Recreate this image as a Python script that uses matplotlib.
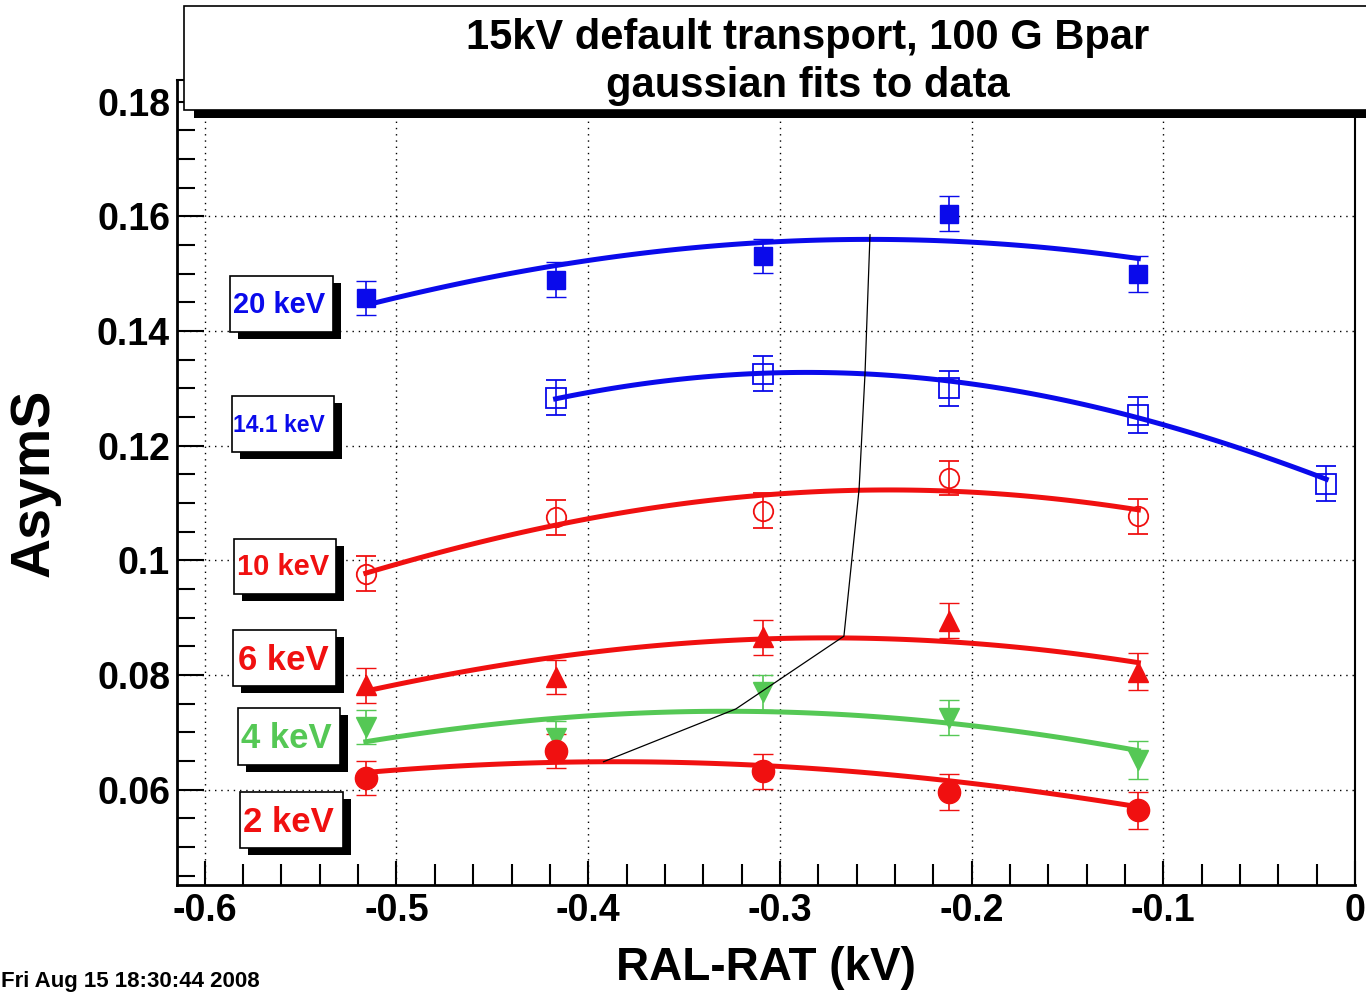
import numpy as np
import matplotlib
matplotlib.use("Agg")
import matplotlib.pyplot as plt
from matplotlib.patches import Rectangle
from matplotlib.ticker import MultipleLocator, FixedLocator, FixedFormatter

# ---------------- data ----------------
x_main = [-0.516, -0.417, -0.309, -0.212, -0.113]
x_141 = [-0.417, -0.309, -0.212, -0.113, -0.015]

asym_20 = [0.1458, 0.1490, 0.1531, 0.1605, 0.1500]
asym_141 = [0.1284, 0.1326, 0.1300, 0.1254, 0.1134]
asym_10 = [0.0977, 0.1075, 0.1087, 0.1144, 0.1077]
asym_6 = [0.0782, 0.0797, 0.0866, 0.0895, 0.0806]
asym_4 = [0.0710, 0.0690, 0.0770, 0.0726, 0.0652]
asym_2 = [0.0621, 0.0668, 0.0632, 0.0596, 0.0564]

err_20 = [0.0030, 0.0030, 0.0030, 0.0030, 0.0031]
err_141 = [0.0030, 0.0030, 0.0030, 0.0031, 0.0031]
err_10 = [0.0030, 0.0030, 0.0030, 0.0030, 0.0031]
err_6 = [0.0030, 0.0030, 0.0030, 0.0031, 0.0032]
err_4 = [0.0030, 0.0030, 0.0030, 0.0031, 0.0033]
err_2 = [0.0030, 0.0030, 0.0031, 0.0032, 0.0033]

# gaussian fit parameters (amplitude, mean, sigma) per energy
fit_20 = (0.1560, -0.253, 0.673)
fit_141 = (0.1328, -0.286, 0.493)
fit_10 = (0.1123, -0.243, 0.519)
fit_6 = (0.0865, -0.275, 0.506)
fit_4 = (0.0737, -0.328, 0.486)
fit_2 = (0.0649, -0.386, 0.537)

# trace of the fit maxima
peak_x = [-0.392, -0.323, -0.2666, -0.2587, -0.2556, -0.253]
peak_y = [0.0649, 0.0741, 0.0868, 0.1124, 0.1326, 0.1568]

x_ticks = [-0.6, -0.5, -0.4, -0.3, -0.2, -0.1, 0.0]
x_tick_labels = ["-0.6", "-0.5", "-0.4", "-0.3", "-0.2", "-0.1", "0"]
y_ticks = [0.06, 0.08, 0.10, 0.12, 0.14, 0.16, 0.18]
y_tick_labels = ["0.06", "0.08", "0.1", "0.12", "0.14", "0.16", "0.18"]

BLUE = "#0a0aeb"
RED = "#f01010"
GREEN = "#55c855"

# ---------------- figure ----------------
W, H, DPI = 1366, 992, 100
plt.rcParams['font.family'] = ['Liberation Sans', 'DejaVu Sans']
plt.rcParams['font.weight'] = 'bold'

fig = plt.figure(figsize=(W / DPI, H / DPI), dpi=DPI)
fig.patch.set_facecolor("white")


def fx(px):
    return px / W


def fy(py):
    return 1.0 - py / H


ax = fig.add_axes([fx(177), fy(885), (1355 - 177) / W, (885 - 80) / H])
ax.set_xlim(-0.6145, 0.0)
ax.set_ylim(0.0434, 0.1838)

ax.xaxis.set_major_locator(FixedLocator(x_ticks))
ax.xaxis.set_major_formatter(FixedFormatter(x_tick_labels))
ax.yaxis.set_major_locator(FixedLocator(y_ticks))
ax.yaxis.set_major_formatter(FixedFormatter(y_tick_labels))
ax.xaxis.set_minor_locator(MultipleLocator(0.02))
ax.yaxis.set_minor_locator(MultipleLocator(0.005))

ax.tick_params(axis='y', which='major', direction='in', length=19.5, width=1.5,
               labelsize=27, pad=5, right=False)
ax.tick_params(axis='y', which='minor', direction='in', length=13, width=1.5, right=False)
ax.tick_params(axis='x', which='major', direction='in', length=17, width=1.5,
               labelsize=27, pad=6, top=False)
ax.tick_params(axis='x', which='minor', direction='in', length=15, width=1.5, top=False)
for lab in ax.get_xticklabels() + ax.get_yticklabels():
    lab.set_fontweight('bold')

ax.grid(True, which='major', color='black', linestyle=(0, (1, 3.5)), linewidth=1.0)
ax.set_axisbelow(True)

for side in ("left", "bottom"):
    ax.spines[side].set_linewidth(2.0)
ax.spines["right"].set_linewidth(1.5)
ax.spines["top"].set_linewidth(1.5)


def gauss(x, a, mu, s):
    return a * np.exp(-0.5 * ((x - mu) / s) ** 2)


series = [
    # x, y, err, fit, color, marker, markersize, filled
    (x_main, asym_20, err_20, fit_20, BLUE, 's', 13, True),
    (x_141, asym_141, err_141, fit_141, BLUE, 's', 14, False),
    (x_main, asym_10, err_10, fit_10, RED, 'o', 14, False),
    (x_main, asym_6, err_6, fit_6, RED, '^', 15, True),
    (x_main, asym_4, err_4, fit_4, GREEN, 'v', 15, True),
    (x_main, asym_2, err_2, fit_2, RED, 'o', 16, True),
]

for xs, ys, es, fit, col, mk, ms, filled in series:
    xf = np.linspace(min(xs), max(xs), 100)
    ax.plot(xf, gauss(xf, *fit), color=col, lw=3.6, zorder=3)

for xs, ys, es, fit, col, mk, ms, filled in series:
    ax.errorbar(xs, ys, yerr=es, fmt=mk, color=col, ms=ms,
                mfc=col if filled else 'none', mec=col,
                mew=1.0 if filled else 1.3,
                elinewidth=1.2, capsize=7, capthick=1.2, zorder=4)

ax.plot(peak_x, peak_y, color='black', lw=0.9, zorder=6)

# ---------------- title box ----------------
shadow = Rectangle((fx(194), fy(118)), fx(1450) - fx(194), (118 - 14) / H,
                   transform=fig.transFigure, facecolor='black', edgecolor='none',
                   zorder=5)
fig.add_artist(shadow)
tbox = Rectangle((fx(184), fy(110)), fx(1440) - fx(184), (110 - 6) / H,
                 transform=fig.transFigure, facecolor='white', edgecolor='black',
                 lw=1.2, zorder=6)
fig.add_artist(tbox)
fig.text(fx(808), fy(49), "15kV default transport, 100 G Bpar", ha='center',
         va='baseline', fontsize=30, fontweight='bold', zorder=7)
fig.text(fx(808), fy(97), "gaussian fits to data", ha='center',
         va='baseline', fontsize=30, fontweight='bold', zorder=7)

# ---------------- energy labels ----------------
labels = [
    ("20 keV", BLUE, 21, (230, 276, 333, 332), (279, 305)),
    ("14.1 keV", BLUE, 16.5, (232, 396, 334, 452), (279, 425)),
    ("10 keV", RED, 21, (234, 539, 336, 594), (283, 567)),
    ("6 keV", RED, 25, (233, 630, 336, 686), (283, 660)),
    ("4 keV", GREEN, 25, (238, 708, 340, 765), (286, 739)),
    ("2 keV", RED, 25, (240, 792, 343, 848), (288, 823)),
]
for text, col, size, (x0, y0, x1, y1), (cx, cy) in labels:
    sh = Rectangle((fx(x0 + 8), fy(y1 + 7)), (x1 - x0) / W, (y1 - y0) / H,
                   transform=fig.transFigure, facecolor='black', edgecolor='none',
                   zorder=5)
    fig.add_artist(sh)
    bx = Rectangle((fx(x0), fy(y1)), (x1 - x0) / W, (y1 - y0) / H,
                   transform=fig.transFigure, facecolor='white', edgecolor='black',
                   lw=1.2, zorder=6)
    fig.add_artist(bx)
    fig.text(fx(cx), fy(cy), text, ha='center', va='center', color=col,
             fontsize=size, fontweight='bold', zorder=7)

# ---------------- axis titles and date stamp ----------------
fig.text(fx(766), fy(980), "RAL-RAT (kV)", ha='center', va='baseline',
         fontsize=33, fontweight='bold')
fig.text(fx(35), fy(483), "AsymS", ha='center', va='center', rotation=90,
         fontsize=40, fontweight='bold')
fig.text(fx(1), fy(987), "Fri Aug 15 18:30:44 2008", ha='left', va='baseline',
         fontsize=16, fontweight='bold')

fig.savefig("out.png", dpi=DPI, facecolor='white')
